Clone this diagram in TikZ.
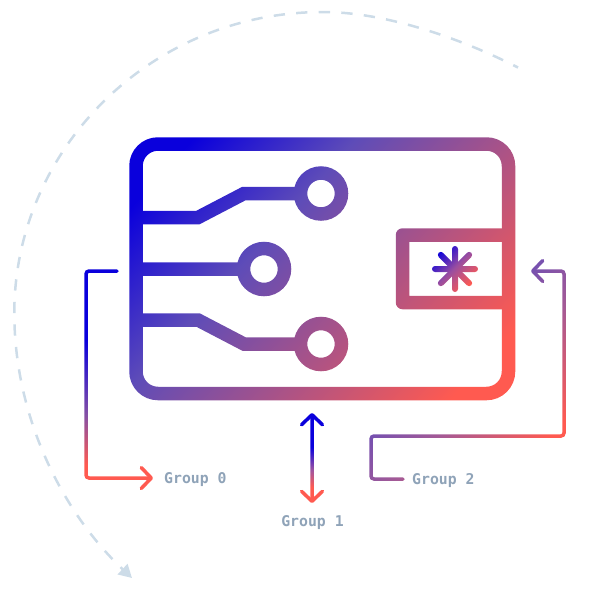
\documentclass[tikz,border=0pt]{standalone}
\usepackage{fontspec}
\newfontfamily\labelfont{DejaVu Sans Mono}
\usetikzlibrary{arrows.meta,fadings}

\definecolor{chipblue}{HTML}{0A00DC}
\definecolor{chipred}{HTML}{FF5A50}
\definecolor{chipmid}{HTML}{5E4CB8}
\definecolor{sparkmid}{HTML}{9A4EA0}
\definecolor{zeromid}{HTML}{8550A5}
\definecolor{onemid}{HTML}{A055A0}
\definecolor{twolow}{HTML}{7550B0}
\definecolor{twomid}{HTML}{A55A95}
\definecolor{orbit}{HTML}{CDDCE8}
\definecolor{grouptext}{HTML}{8FA3B8}

\pgfdeclarehorizontalshading{chipgrad}{100bp}{color(0bp)=(chipblue); color(34.25bp)=(chipblue); color(44.4bp)=(chipmid); color(65bp)=(chipred); color(100bp)=(chipred)}
\pgfdeclarehorizontalshading{sparkgrad}{100bp}{color(0bp)=(chipblue); color(55.33bp)=(chipblue); color(57.25bp)=(sparkmid); color(59.17bp)=(chipred); color(100bp)=(chipred)}
\pgfdeclarehorizontalshading{zerograd}{100bp}{color(0bp)=(chipblue); color(53.33bp)=(chipblue); color(59.58bp)=(zeromid); color(63.75bp)=(chipred); color(100bp)=(chipred)}
\pgfdeclarehorizontalshading{onegrad}{100bp}{color(0bp)=(chipblue); color(62.25bp)=(chipblue); color(64.17bp)=(onemid); color(65.6bp)=(chipred); color(100bp)=(chipred)}
\pgfdeclarehorizontalshading{twograd}{100bp}{color(0bp)=(twolow); color(62.08bp)=(twolow); color(66.4bp)=(twomid); color(73.08bp)=(chipred); color(100bp)=(chipred)}

\tikzset{
	wire/.style={draw=white,line width=13.5pt},
	pad/.style={circle,wire,inner sep=0pt,outer sep=0pt,minimum size=41pt},
	lead/.style={draw=white,line width=3.5pt,rounded corners=3pt,line cap=round},
	barb/.tip={Straight Barb[length=10pt,width=21pt,round]},
	group/.style={font=\labelfont\bfseries\fontsize{14.8}{16}\selectfont,text=grouptext,inner sep=0pt},
	sheet/.style={fit fading=false,fading transform={xshift=300pt,yshift=-300pt}},
}

% every stroke below is a mask, the colour comes from a shaded sheet
\begin{tikzfadingfrompicture}[name=chipmask,x=1pt,y=-1pt]
	\path (0,0) rectangle (600,600);
	\draw[wire,rounded corners=22pt] (136,144) rectangle (508.5,393.5);
	\draw[wire,line join=round] (508.5,235) -- (402.5,235) -- (402.5,302.5) -- (508.5,302.5);

	\coordinate (edge-top) at (136,217.5);
	\coordinate (edge-mid) at (136,269);
	\coordinate (edge-bot) at (136,320);
	\node[pad] (pad-top) at (321,193.5) {};
	\node[pad] (pad-mid) at (264,269) {};
	\node[pad] (pad-bot) at (321,344) {};
	\draw[wire] (edge-top) -- (198,217.5) -- (244,193.5) -- (pad-top);
	\draw[wire] (edge-mid) -- (pad-mid);
	\draw[wire] (edge-bot) -- (198,320) -- (244,344) -- (pad-bot);
\end{tikzfadingfrompicture}

\begin{tikzfadingfrompicture}[name=sparkmask,x=1pt,y=-1pt]
	\path (0,0) rectangle (600,600);
	\coordinate (spark) at (455,269);
	\foreach \a in {0,45,...,315}
		\draw[draw=white,line width=6pt,line cap=round] (spark) -- +(\a:20);
\end{tikzfadingfrompicture}

\begin{tikzfadingfrompicture}[name=zeromask,x=1pt,y=-1pt]
	\path (0,0) rectangle (600,600);
	\coordinate (zero-a) at (117,271);
	\coordinate (zero-b) at (153,478);
	\draw[lead,-barb] (zero-a) -- (86,271) -- (86,478) -- (zero-b);
\end{tikzfadingfrompicture}

\begin{tikzfadingfrompicture}[name=onemask,x=1pt,y=-1pt]
	\path (0,0) rectangle (600,600);
	\coordinate (one-a) at (312,413);
	\coordinate (one-b) at (312,503);
	\draw[lead,barb-barb] (one-a) -- (one-b);
\end{tikzfadingfrompicture}

\begin{tikzfadingfrompicture}[name=twomask,x=1pt,y=-1pt]
	\path (0,0) rectangle (600,600);
	\coordinate (two-a) at (403,479);
	\coordinate (two-b) at (531,271);
	\draw[lead,-barb] (two-a) -- (371,479) -- (371,436) -- (564,436) -- (564,271) -- (two-b);
\end{tikzfadingfrompicture}

\begin{document}
\begin{tikzpicture}[x=1pt,y=-1pt]
	\useasboundingbox (0,0) rectangle (600,600);

	% orbit behind the chip
	\coordinate (orbit-start) at (518,67.5);
	\coordinate (orbit-top) at (323,12);
	\coordinate (orbit-left) at (14.3,313);
	\coordinate (orbit-end) at (132,578);
	\draw[orbit,line width=2.5pt,dash pattern=on 11.3pt off 11.3pt,dash phase=6pt,-{Triangle[length=13pt,width=14pt]}]
		(orbit-start) .. controls (460,38) and (385,12) .. (orbit-top)
		.. controls (150,12) and (14.3,150) .. (orbit-left)
		.. controls (14.3,420) and (65,515) .. (orbit-end);

	\shade[sheet,shading=chipgrad,shading angle=-42.2,path fading=chipmask] (0,0) rectangle (600,600);
	\shade[sheet,shading=sparkgrad,shading angle=-45,path fading=sparkmask] (0,0) rectangle (600,600);
	\shade[sheet,shading=zerograd,shading angle=-90,path fading=zeromask] (0,0) rectangle (600,600);
	\shade[sheet,shading=onegrad,shading angle=-90,path fading=onemask] (0,0) rectangle (600,600);
	\shade[sheet,shading=twograd,shading angle=-43.8,path fading=twomask] (0,0) rectangle (600,600);

	\node[group,anchor=west] (group-0) at (164,480) {Group 0};
	\node[group] (group-1) at (312.5,523) {Group 1};
	\node[group,anchor=west] (group-2) at (412,481) {Group 2};
\end{tikzpicture}
\end{document}
